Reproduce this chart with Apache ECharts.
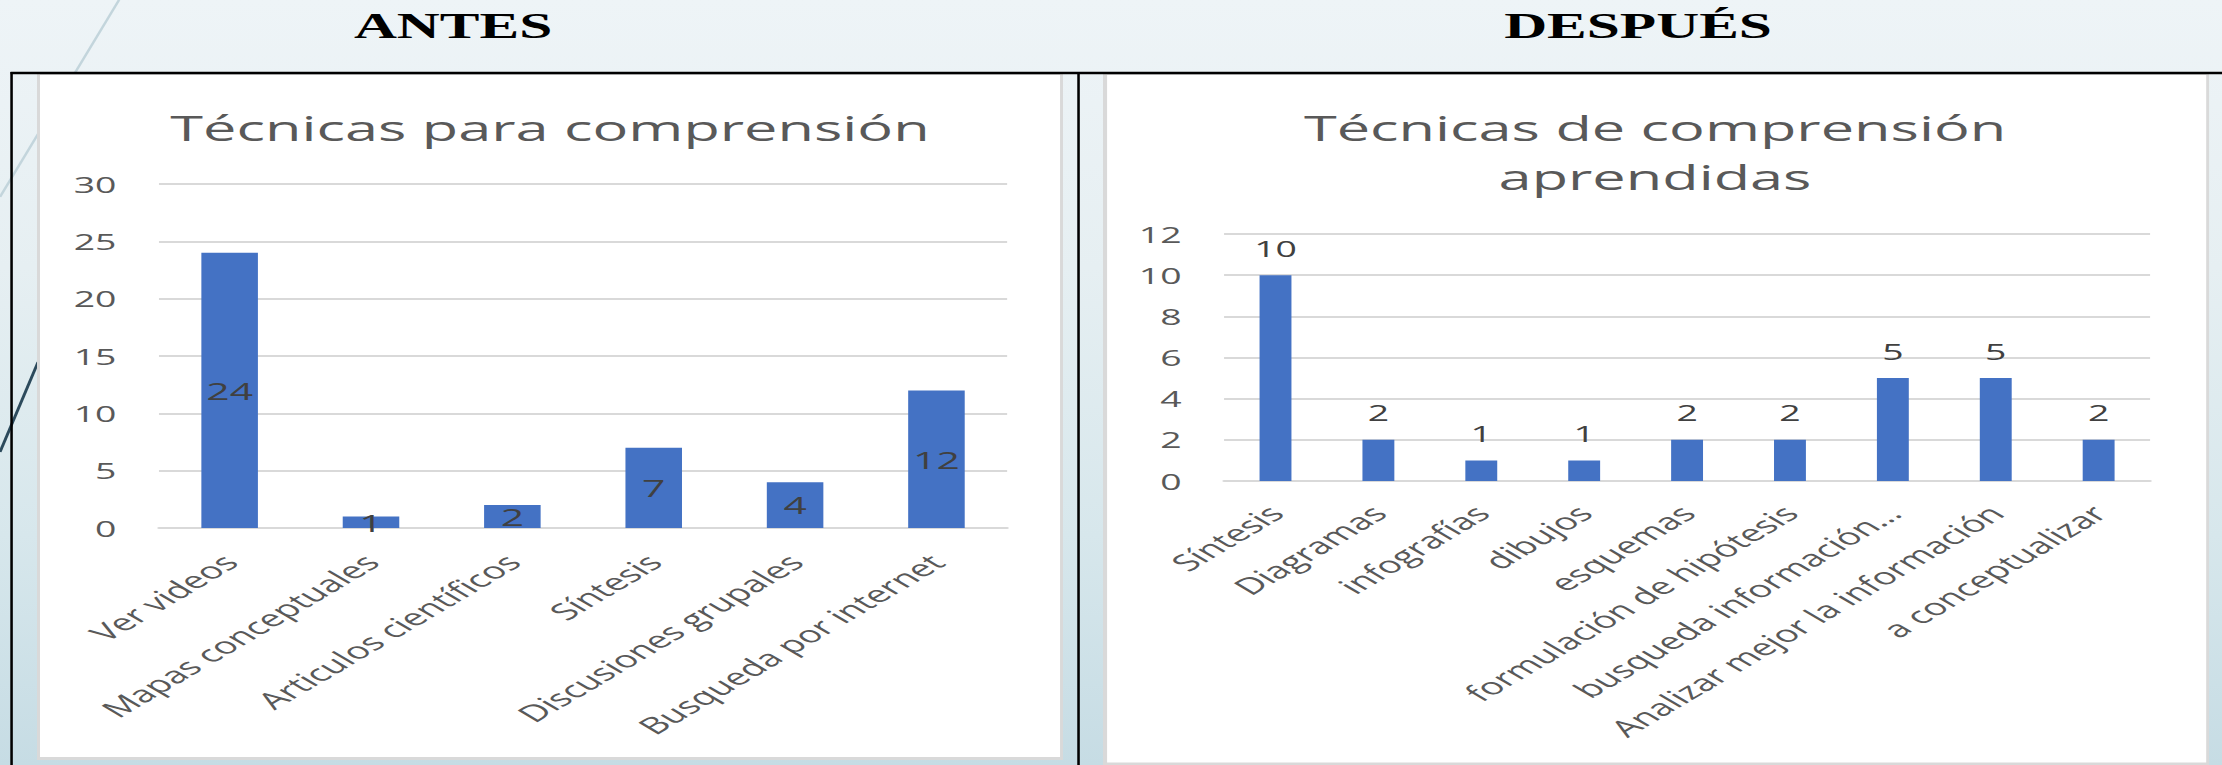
<!DOCTYPE html>
<html>
<head>
<meta charset="utf-8">
<script src="https://cdn.jsdelivr.net/npm/echarts@6.0.0/dist/echarts.min.js"></script>
<style>
html,body{margin:0;padding:0;width:2222px;height:765px;overflow:hidden;background:#e6eff2;}
#chart{width:1307px;height:765px;transform:scaleX(1.70008);transform-origin:0 0;}
</style>
</head>
<body>
<div id="chart"></div>
<script>
// ---- data ----
const antesCategories = ['Ver videos', 'Mapas conceptuales', 'Articulos científicos', 'Síntesis', 'Discusiones grupales', 'Busqueda por internet'];
const antesValues = [24, 1, 2, 7, 4, 12];
const antesTicks = [0, 5, 10, 15, 20, 25, 30];

const despuesCategories = ['Síntesis', 'Diagramas', 'infografías', 'dibujos', 'esquemas', 'formulación de hipótesis', 'busqueda información…', 'Analizar mejor la información', 'a conceptualizar'];
const despuesValues = [10, 2, 1, 1, 2, 2, 5, 5, 2];
const despuesTicks = [0, 2, 4, 6, 8, 10, 12];

const headLeft = 'ANTES';
const headRight = 'DESPUÉS';
const titleLeft = 'Técnicas para comprensión';
const titleRight = 'Técnicas de comprensión\naprendidas';

// ---- styles ----
const FONT = 'Open Sans';
const BAR = '#4472C4';
const GRID = '#d9d9d9';
const TXT = '#595959';
const LBL = '#404040';

const chart = echarts.init(document.getElementById('chart'), null, {renderer: 'svg'});

function yAxisFor(ticks, grid) {
  return {
    type: 'value', gridIndex: grid,
    min: ticks[0], max: ticks[ticks.length - 1], interval: ticks[1] - ticks[0],
    axisLine: {show: false}, axisTick: {show: false},
    splitLine: {lineStyle: {color: GRID, width: 2}},
    axisLabel: {fontFamily: FONT, fontSize: 22, color: TXT, margin: 25}
  };
}
function xAxisFor(cats, grid, margin) {
  return {
    type: 'category', gridIndex: grid, data: cats,
    axisLine: {lineStyle: {color: GRID, width: 2}},
    axisTick: {show: false},
    axisLabel: {interval: 0, rotate: 45, margin: margin, fontFamily: FONT, fontSize: 23, color: TXT}
  };
}

const option = {
  animation: false,
  backgroundColor: {
    type: 'linear', x: 0, y: 0, x2: 0, y2: 1,
    colorStops: [
      {offset: 0, color: '#eef4f7'},
      {offset: 0.35, color: '#e6eff2'},
      {offset: 0.7, color: '#d7e7ec'},
      {offset: 1, color: '#c6dce4'}
    ]
  },
  graphic: {
    z: -10,
    elements: [
      {type: 'line', z: -10, shape: {x1: 70, y1: 0, x2: 0, y2: 197}, style: {stroke: '#c3d5dc', lineWidth: 1.6}},
      {type: 'line', z: -10, shape: {x1: 22.4, y1: 362, x2: 0, y2: 452}, style: {stroke: '#2c4a5c', lineWidth: 1.8}},
      {type: 'rect', z: -9, shape: {x: 21.76, y: 73.5, width: 603.5, height: 686.5}, style: {fill: '#d9d9d9'}},
      {type: 'rect', z: -8, shape: {x: 23.53, y: 75, width: 600, height: 682}, style: {fill: '#ffffff'}},
      {type: 'rect', z: -9, shape: {x: 648.8, y: 73.5, width: 650.6, height: 692}, style: {fill: '#d9d9d9'}},
      {type: 'rect', z: -8, shape: {x: 651.2, y: 75, width: 646.5, height: 687.5}, style: {fill: '#ffffff'}},
      {type: 'line', z: -7, shape: {x1: 6.2, y1: 73, x2: 1307, y2: 73}, style: {stroke: '#000', lineWidth: 2.5}},
      {type: 'line', z: -7, shape: {x1: 6.8, y1: 72, x2: 6.8, y2: 765}, style: {stroke: '#000', lineWidth: 1.5}},
      {type: 'line', z: -7, shape: {x1: 634.4, y1: 72, x2: 634.4, y2: 765}, style: {stroke: '#000', lineWidth: 1.5}}
    ]
  },
  title: [
    {text: headLeft, left: 266.5, top: 7, textAlign: 'center', padding: 0,
     textStyle: {fontFamily: 'Liberation Serif', fontWeight: 'bold', fontSize: 35, lineHeight: 40, color: '#000'}},
    {text: headRight, left: 963.5, top: 7, textAlign: 'center', padding: 0,
     textStyle: {fontFamily: 'Liberation Serif', fontWeight: 'bold', fontSize: 35, lineHeight: 40, color: '#000'}},
    {text: titleLeft, left: 323.5, top: 106, textAlign: 'center', padding: 0,
     textStyle: {fontFamily: FONT, fontWeight: 'normal', fontSize: 35, lineHeight: 42, color: TXT}},
    {text: titleRight, left: 973.5, top: 102.5, textAlign: 'center', padding: 0,
     textStyle: {fontFamily: FONT, fontWeight: 'normal', fontSize: 35, lineHeight: 49, color: TXT}}
  ],
  grid: [
    {left: 93.5, right: 714.6, top: 184, bottom: 237},
    {left: 720, right: 42.3, top: 234, bottom: 284}
  ],
  xAxis: [xAxisFor(antesCategories, 0, 30), xAxisFor(despuesCategories, 1, 28)],
  yAxis: [yAxisFor(antesTicks, 0), yAxisFor(despuesTicks, 1)],
  series: [
    {type: 'bar', xAxisIndex: 0, yAxisIndex: 0, data: antesValues, barWidth: '40%',
     itemStyle: {color: BAR},
     label: {show: true, position: 'inside', fontFamily: FONT, fontSize: 24, color: LBL}},
    {type: 'bar', xAxisIndex: 1, yAxisIndex: 1, data: despuesValues, barWidth: '31%',
     itemStyle: {color: BAR},
     label: {show: true, position: 'top', distance: 16, fontFamily: FONT, fontSize: 22, color: LBL}}
  ]
};
chart.setOption(option);
</script>
</body>
</html>
